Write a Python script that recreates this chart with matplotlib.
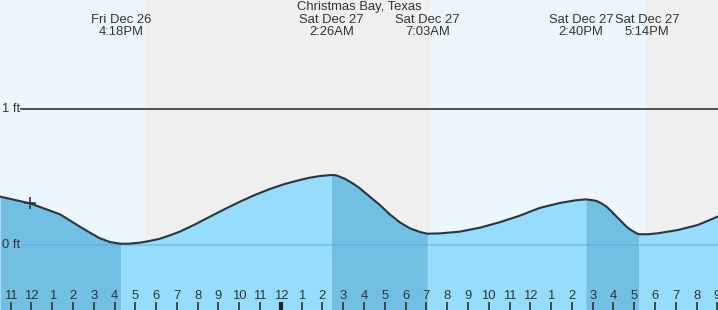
import numpy as np
import matplotlib.pyplot as plt

plt.rcParams['font.family'] = ['Liberation Sans', 'DejaVu Sans']

# hours since Dec 26 00:00, tide height in ft
hours = [10.49, 11.93, 13.38, 14.34, 14.82, 15.30, 15.78, 16.30, 16.74, 17.22,
         17.70, 18.18, 18.66, 19.14, 19.87, 20.59, 21.31, 22.03, 22.75, 23.47,
         24.19, 24.91, 25.39, 25.88, 26.43, 26.64, 26.84, 27.08, 27.32, 27.56,
         27.80, 28.28, 28.76, 29.24, 29.72, 30.20, 30.68, 31.05, 31.63, 32.61,
         33.57, 34.53, 35.49, 36.45, 37.41, 38.13, 38.67, 38.95, 39.19, 39.43,
         39.67, 39.91, 40.15, 40.39, 40.63, 40.87, 41.11, 41.23, 41.66, 42.14,
         43.10, 44.06, 45.01]
height = [0.357, 0.308, 0.227, 0.136, 0.092, 0.051, 0.024, 0.011, 0.012, 0.019,
          0.032, 0.048, 0.073, 0.100, 0.153, 0.210, 0.266, 0.320, 0.369, 0.413,
          0.450, 0.479, 0.496, 0.508, 0.516, 0.514, 0.503, 0.488, 0.467, 0.444,
          0.418, 0.357, 0.296, 0.227, 0.169, 0.125, 0.098, 0.085, 0.087, 0.100,
          0.129, 0.169, 0.217, 0.274, 0.310, 0.329, 0.337, 0.332, 0.325, 0.307,
          0.283, 0.248, 0.210, 0.173, 0.136, 0.109, 0.088, 0.081, 0.081, 0.088,
          0.112, 0.149, 0.210]
# tide extremes: hour, label (label spots nudged apart like the original)
ext_hours = [16.30, 26.43, 31.05, 38.67, 41.23]
ext_label_hours = [16.30, 26.43, 31.05, 38.45, 41.62]
ext_labels = ['Fri Dec 26\n4:18PM', 'Sat Dec 27\n2:26AM', 'Sat Dec 27\n7:03AM',
              'Sat Dec 27\n2:40PM', 'Sat Dec 27\n5:14PM']
night = [(17.51, 31.16), (41.55, 46.0)]
now_hour, now_height = 11.93, 0.308
tick_hours = list(range(11, 46))

x0, x1 = 10.49, 45.03
y0, y1 = -0.475, 1.80
fs = 9.4

fig = plt.figure(figsize=(7.18, 3.10), dpi=100)
ax = fig.add_axes([0, 0, 1, 1])
ax.set_xlim(x0, x1)
ax.set_ylim(y0, y1)
ax.axis('off')
ax.axvspan(x0, x1, color='#ecf6fe', lw=0, zorder=0)
for a, b in night:
    ax.axvspan(a, b, color='#efefef', lw=0, zorder=0)

h = np.array(hours)
t = np.array(height)
# segments between extremes: falling darker, rising lighter
bounds = [h[0]] + ext_hours + [h[-1]]
for i in range(len(bounds) - 1):
    m = (h >= bounds[i]) & (h <= bounds[i + 1])
    falling = t[m][0] > t[m][-1]
    ax.fill_between(h[m], t[m], y0, color='#71c0e4' if falling else '#96dcfc',
                    lw=0, zorder=1)
ax.plot(h, t, color='#333333', lw=1.5, zorder=3, solid_joinstyle='round')

ax.hlines(1, x0 + 20 / 20.8, x1, color='#333333', lw=1.2, zorder=2)
ax.hlines(0, x0 + 22 / 20.8, x1, color='#4aa3d0', lw=1.2, alpha=0.45, zorder=2)
ax.text(x0 + 2 / 20.8, 1, '1 ft', fontsize=fs, color='#333333', va='center')
ax.text(x0 + 2 / 20.8, 0, '0 ft', fontsize=fs, color='#333333', va='center')

ax.plot([now_hour], [now_height], marker='+', ms=9, mew=1.2, color='#333333', zorder=4)

for hr in tick_hours:
    lab = str(hr % 12 if hr % 12 else 12)
    ax.text(hr, -0.372, lab, fontsize=fs, color='#333333', ha='center', va='center', zorder=5)
    mid = hr == 24
    ax.vlines(hr, y0, -0.416, color='#333333' if not mid else '#222222',
              lw=3 if mid else 1.2, zorder=5)

ax.text((x0 + x1) / 2, 1.745, 'Christmas Bay, Texas', fontsize=fs, color='#333333',
        ha='center', va='center')
for eh, el in zip(ext_label_hours, ext_labels):
    ax.text(eh, 1.612, el, fontsize=fs, color='#333333', ha='center', va='center',
            linespacing=1.0)

fig.savefig('out.png', dpi=100)
